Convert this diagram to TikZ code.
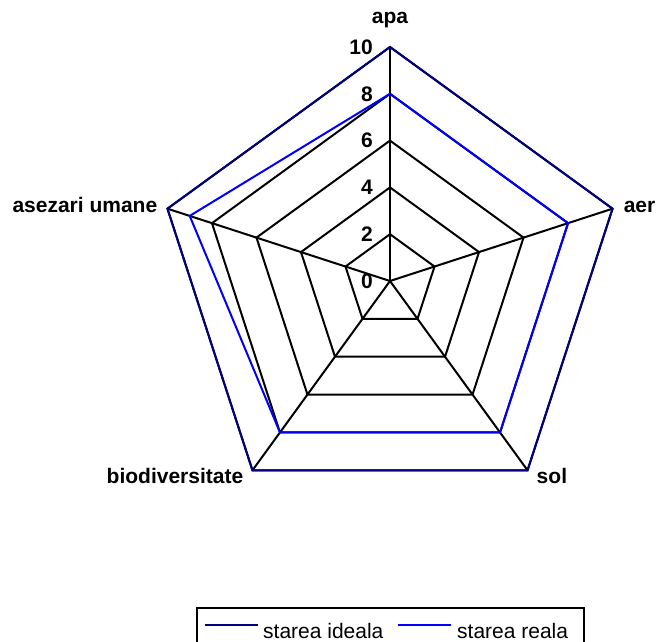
\documentclass[tikz,border=0pt]{standalone}
\usepackage{fontspec}
\setmainfont{Liberation Sans}
\usetikzlibrary{positioning}
\definecolor{IdealNavy}{RGB}{0,0,128}
\definecolor{RealBlue}{RGB}{0,0,255}

\begin{document}
\begin{tikzpicture}[x=1pt, y=1pt, font=\fontsize{21}{25}\selectfont,
    gridline/.style={line width=2pt, black, line join=miter},
    serie/.style={line width=2pt, line join=miter},
    axlabel/.style={inner sep=0pt, font=\fontsize{21}{25}\selectfont\bfseries}]
  \useasboundingbox (0,0) rectangle (656,641);
  \coordinate (c) at (390,360);
  % Axes
  \foreach \a/\nm in {90/apa, 18/aer, -54/sol, 234/bio, 162/asez} {
    \coordinate (\nm) at ([shift={(\a:234)}]c);
    \draw[gridline] (c) -- (\nm);
  }
  % Rings
  \foreach \v in {2,4,6,8,10} {
    \draw[gridline] ([shift={(90:\v*23.4)}]c) -- ([shift={(18:\v*23.4)}]c)
      -- ([shift={(-54:\v*23.4)}]c) -- ([shift={(234:\v*23.4)}]c)
      -- ([shift={(162:\v*23.4)}]c) -- cycle;
  }
  % Scale
  \foreach \v in {0,2,...,10} {
    \node[axlabel, anchor=east] (t\v) at ([shift={(-17,\v*23.4)}]c) {\v};
  }
  % Starea reala
  \draw[serie, RealBlue] ([shift={(90:8*23.4)}]c) -- ([shift={(18:8*23.4)}]c)
    -- ([shift={(-54:8*23.4)}]c) -- ([shift={(234:8*23.4)}]c)
    -- ([shift={(162:9*23.4)}]c) -- cycle;
  % Starea ideala
  \draw[serie, IdealNavy] (apa) -- (aer) -- (sol) -- (bio) -- (asez) -- cycle;
  % Axis names
  \node[axlabel, anchor=base] (lapa) at ([yshift=23]apa) {apa};
  \node[axlabel, anchor=base west] (laer) at ([shift={(11,-4)}]aer) {aer};
  \node[axlabel, anchor=base west] (lsol) at ([shift={(9,-13)}]sol) {sol};
  \node[axlabel, anchor=base east] (lbio) at ([shift={(-9,-13)}]bio) {biodiversitate};
  \node[axlabel, anchor=base east] (lasez) at ([shift={(-10,-4)}]asez) {asezari umane};
  % Legend
  \draw[line width=2pt] (197,33) rectangle (584,-20);
  \coordinate (i1) at (205,16);
  \coordinate (i2) at (258,16);
  \coordinate (r1) at (398,16);
  \coordinate (r2) at (451,16);
  \draw[serie, line width=2.5pt, IdealNavy] (i1) -- (i2);
  \draw[serie, line width=2.5pt, RealBlue] (r1) -- (r2);
  \node[inner sep=0pt, anchor=base west] (lideal) at (263,3) {starea ideala};
  \node[inner sep=0pt, anchor=base west] (lreal) at (457,3) {starea reala};
\end{tikzpicture}
\end{document}
